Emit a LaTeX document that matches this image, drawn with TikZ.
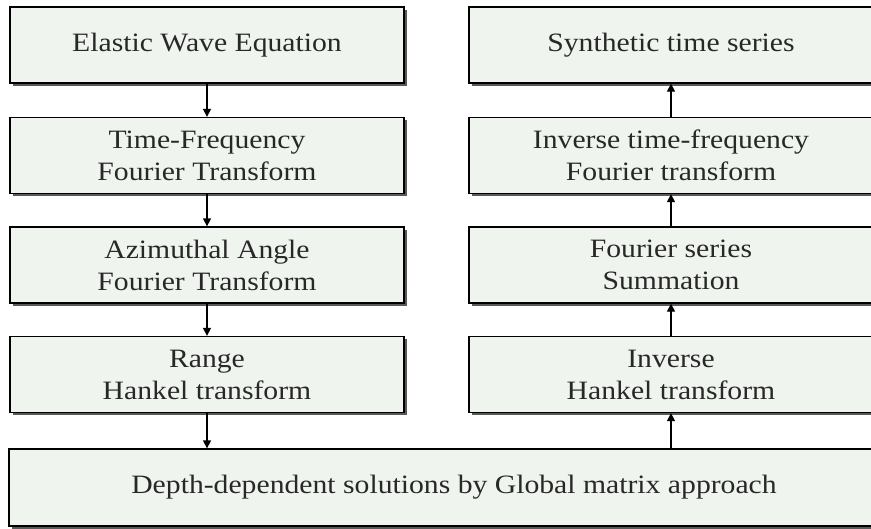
\documentclass[tikz,border=0pt]{standalone}
\usepackage{fontspec}
\setmainfont{Liberation Serif}[FakeStretch=1.12]
\usetikzlibrary{arrows.meta,shadows}
\definecolor{boxfill}{HTML}{EFF4EE}
\definecolor{txt}{HTML}{282828}
\tikzset{
  flowbox/.style={draw=black, line width=1.3pt, fill=boxfill, minimum width=394pt, minimum height=76pt,
    inner sep=0pt, align=center, text=txt, font=\fontsize{26.5}{32}\selectfont,
    drop shadow={shadow xshift=2.5pt, shadow yshift=-2.5pt, fill=black!65, opacity=1}},
  flowarrow/.style={line width=1.3pt, -{Triangle[length=8pt,width=8pt]}}
}
\begin{document}
\begin{tikzpicture}[x=1pt,y=-1pt]
\useasboundingbox (0,0) rectangle (871,528);
\clip (0,0) rectangle (871,528);
\fill[white] (0,0) rectangle (871,528);
\node[flowbox] (l1) at (207,45) {Elastic Wave Equation};
\node[flowbox] (l2) at (207,155.5) {Time-Frequency\\Fourier Transform};
\node[flowbox] (l3) at (207,265) {Azimuthal Angle\\Fourier Transform};
\node[flowbox] (l4) at (207,374.5) {Range\\Hankel transform};
\node[flowbox, minimum width=404pt] (r1) at (671,45) {Synthetic time series};
\node[flowbox, minimum width=404pt] (r2) at (671,155.5) {Inverse time-frequency\\Fourier transform};
\node[flowbox, minimum width=404pt] (r3) at (671,265) {Fourier series\\Summation};
\node[flowbox, minimum width=404pt] (r4) at (671,374.5) {Inverse\\Hankel transform};
\node[flowbox, minimum width=890pt, minimum height=77pt] (bot) at (454,487.5) {Depth-dependent solutions by Global matrix approach};
\draw[flowarrow] (l1.south) -- (l2.north);
\draw[flowarrow] (l2.south) -- (l3.north);
\draw[flowarrow] (l3.south) -- (l4.north);
\draw[flowarrow] (l4.south) -- (l4.south |- bot.north);
\draw[flowarrow] (bot.north -| r4.south) -- (r4.south);
\draw[flowarrow] (r4.north) -- (r3.south);
\draw[flowarrow] (r3.north) -- (r2.south);
\draw[flowarrow] (r2.north) -- (r1.south);
\end{tikzpicture}
\end{document}
